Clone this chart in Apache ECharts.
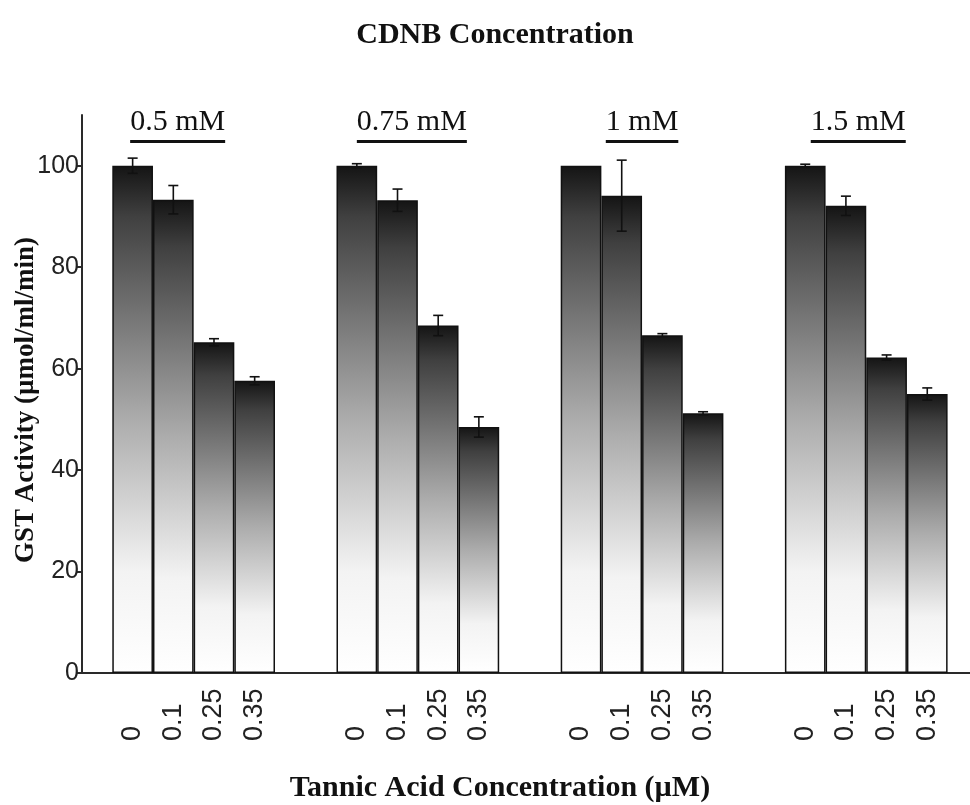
<!DOCTYPE html>
<html>
<head>
<meta charset="utf-8">
<script src="https://cdn.jsdelivr.net/npm/echarts@6/dist/echarts.min.js"></script>
<style>
  html, body { margin: 0; padding: 0; background: #fff; }
  #chart { width: 970px; height: 805px; }
</style>
</head>
<body>
<div id="chart"></div>
<script>
// CDNB concentration groups and tannic acid doses within each group
const groupNames = ['0.5 mM', '0.75 mM', '1 mM', '1.5 mM'];
const tannicLabels = ['0', '0.1', '0.25', '0.35'];

// GST activity (µmol/ml/min) and error per group, in tannic dose order
const activity05 = [100, 93.3, 65.2, 57.6];
const error05 = [1.5, 2.8, 0.7, 0.8];
const activity075 = [100, 93.2, 68.5, 48.5];
const error075 = [0.4, 2.2, 2.0, 2.0];
const activity1 = [100, 94.1, 66.6, 51.2];
const error1 = [0, 7.0, 0.3, 0.3];
const activity15 = [100, 92.1, 62.2, 55.0];
const error15 = [0.3, 1.9, 0.5, 1.2];

const titleText = 'CDNB Concentration';
const xAxisName = 'Tannic Acid Concentration (µM)';
const yAxisName = 'GST Activity (µmol/ml/min)';

const groupValues = [activity05, activity075, activity1, activity15];
const groupErrors = [error05, error075, error1, error15];

// Layout
const plotTop = 115;
const plotHeight = 558;
const axisLeft = 82;
const panelStart = 112.3;
const panelStep = 224.2;
const panelWidth = 162.7;
const yMax = 110;
const groupLabelShift = [-16, -6, 0, -8];
const groupLabelY = 123;
const underlineY = 140;

const serif = '"Liberation Serif", "Times New Roman", serif';
const sans = '"Liberation Sans", Arial, sans-serif';
const axisColor = '#2a2a2a';

const chart = echarts.init(document.getElementById('chart'), null, { renderer: 'canvas' });

const barFill = new echarts.graphic.LinearGradient(0, 0, 0, 1, [
  { offset: 0, color: '#141414' },
  { offset: 0.1, color: '#404040' },
  { offset: 0.5, color: '#acacac' },
  { offset: 0.8, color: '#f3f3f3' },
  { offset: 1, color: '#ffffff' }
]);

const grids = [{ left: axisLeft, top: plotTop, width: 888, height: plotHeight, outerBoundsMode: 'none', containLabel: false }];
const xAxes = [{
  gridIndex: 0, type: 'value', min: 0, max: 1,
  axisLine: { show: true, onZero: false, lineStyle: { color: axisColor, width: 2 } },
  axisTick: { show: false }, axisLabel: { show: false }, splitLine: { show: false },
  name: xAxisName, nameLocation: 'middle', nameGap: 100,
  nameTextStyle: { fontFamily: serif, fontWeight: 'bold', fontSize: 30, color: '#111', padding: [0, 52, 0, 0] }
}];
const yAxes = [{
  gridIndex: 0, type: 'value', min: 0, max: yMax, interval: 20,
  axisLine: { show: true, lineStyle: { color: axisColor, width: 2 } },
  axisTick: { show: true, length: 5, lineStyle: { color: axisColor, width: 2 } },
  axisLabel: { fontFamily: sans, fontSize: 25, color: '#222', margin: 3, showMaxLabel: false },
  splitLine: { show: false },
  name: yAxisName, nameLocation: 'middle', nameGap: 42, nameRotate: 90, nameMoveOverlap: false,
  nameTextStyle: { fontFamily: serif, fontWeight: 'bold', fontSize: 27, color: '#111', padding: [0, 12, 0, 0] }
}];
const series = [];

groupNames.forEach((name, i) => {
  const gi = i + 1;
  grids.push({
    left: panelStart + i * panelStep, width: panelWidth, top: plotTop, height: plotHeight,
    outerBoundsMode: 'none', containLabel: false
  });
  xAxes.push({
    gridIndex: gi, type: 'category', data: tannicLabels,
    axisLine: { show: false }, axisTick: { show: false },
    axisLabel: { interval: 0, rotate: 90, align: 'left', margin: 68, fontFamily: sans, fontSize: 27, color: '#222' }
  });
  yAxes.push({ gridIndex: gi, type: 'value', min: 0, max: yMax, show: false });
  series.push({
    name: name, type: 'bar', xAxisIndex: gi, yAxisIndex: gi,
    data: groupValues[i], barCategoryGap: '0%',
    itemStyle: { color: barFill, borderColor: '#111', borderWidth: 1.5 },
    emphasis: { disabled: true }, silent: true
  });
  series.push({
    name: name + ' error', type: 'custom', xAxisIndex: gi, yAxisIndex: gi, z: 10, silent: true,
    data: tannicLabels.map((t, j) => [j, groupValues[i][j], groupErrors[i][j]]),
    encode: { x: 0, y: 1 },
    renderItem: (params, api) => {
      const x = api.value(0), v = api.value(1), e = api.value(2);
      if (!e) return null;
      const hi = api.coord([x, v + e]);
      const lo = api.coord([x, v - e]);
      const half = 5;
      const style = { stroke: '#111', lineWidth: 1.6 };
      return {
        type: 'group',
        children: [
          { type: 'line', shape: { x1: hi[0], y1: hi[1], x2: lo[0], y2: lo[1] }, style },
          { type: 'line', shape: { x1: hi[0] - half, y1: hi[1], x2: hi[0] + half, y2: hi[1] }, style },
          { type: 'line', shape: { x1: lo[0] - half, y1: lo[1], x2: lo[0] + half, y2: lo[1] }, style }
        ]
      };
    }
  });
});

// Underlined group headings above each panel
const groupFont = '30px ' + serif;
const measure = document.createElement('canvas').getContext('2d');
measure.font = groupFont;
const graphics = [];
groupNames.forEach((name, i) => {
  const cx = panelStart + i * panelStep + panelWidth / 2 + groupLabelShift[i];
  const w = measure.measureText(name).width;
  graphics.push({
    type: 'text', left: cx - w / 2, top: groupLabelY - 16,
    style: { text: name, font: groupFont, fill: '#111' }
  });
  graphics.push({
    type: 'rect', shape: { x: cx - w / 2, y: underlineY, width: w, height: 3 },
    style: { fill: '#111' }
  });
});

chart.setOption({
  animation: false,
  backgroundColor: '#ffffff',
  title: {
    text: titleText, left: 490, textAlign: 'center', top: 15,
    textStyle: { fontFamily: serif, fontWeight: 'bold', fontSize: 30, color: '#111' }
  },
  grid: grids,
  xAxis: xAxes,
  yAxis: yAxes,
  series: series,
  graphic: graphics
});
</script>
</body>
</html>
